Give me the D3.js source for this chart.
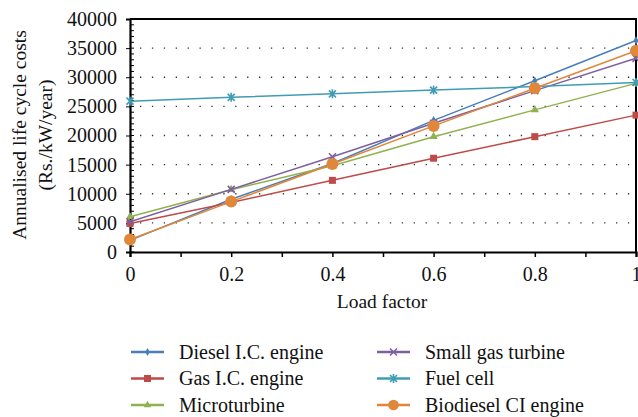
<!DOCTYPE html>
<html>
<head>
<meta charset="utf-8">
<script src="https://cdn.jsdelivr.net/npm/d3@7"></script>
<style>
  body { margin: 0; background: #fff; }
  text { font-family: "Liberation Serif", "DejaVu Serif", serif; fill: #111; }
</style>
</head>
<body>
<div id="chart"></div>
<script>
var loadFactor = [0, 0.2, 0.4, 0.6, 0.8, 1];

var diesel = [2000, 9050, 15200, 22600, 29400, 36300];
var gasIC = [4900, 8500, 12300, 16100, 19800, 23500];
var micro = [6050, 10700, 14800, 19800, 24400, 28950];
var smallGas = [5200, 10750, 16350, 22100, 27700, 33250];
var fuelCell = [25900, 26550, 27150, 27800, 28400, 29100];
var biodiesel = [2150, 8650, 15100, 21650, 28100, 34550];

var seriesNames = ["Diesel I.C. engine", "Gas I.C. engine", "Microturbine",
  "Small gas turbine", "Fuel cell", "Biodiesel CI engine"];
var seriesValues = [diesel, gasIC, micro, smallGas, fuelCell, biodiesel];
var colors = ["#4a7ebb", "#be4b48", "#8fb24f", "#7d60a0", "#3e9db5", "#e0873a"];
var markers = ["diamond", "square", "triangle", "cross", "asterisk", "circle"];

var yTicks = [0, 5000, 10000, 15000, 20000, 25000, 30000, 35000, 40000];

var width = 638, height = 417;
var svg = d3.select("#chart").append("svg")
  .attr("width", width).attr("height", height);

var x = d3.scaleLinear().domain([0, 1]).range([130, 636]);
var y = d3.scaleLinear().domain([0, 40000]).range([252, 19]);

// dotted grid
svg.append("g").selectAll("line")
  .data(yTicks.filter(function(d) { return d > 0 && d < 40000; }))
  .enter().append("line")
  .attr("x1", x(0) + 10).attr("x2", x(1) - 4)
  .attr("y1", function(d) { return y(d); })
  .attr("y2", function(d) { return y(d); })
  .attr("stroke", "#333").attr("stroke-width", 1.3)
  .attr("stroke-dasharray", "1.3,10.6");

// frame top/right
svg.append("path")
  .attr("d", "M" + x(0) + "," + y(40000) + "H" + x(1) + "V" + y(0))
  .attr("fill", "none").attr("stroke", "#000").attr("stroke-width", 2);

// y axis with minor ticks inward
var yMinor = d3.range(0, 40001, 1000);
svg.append("g").selectAll("line")
  .data(yMinor).enter().append("line")
  .attr("x1", x(0)).attr("x2", x(0) + 4)
  .attr("y1", function(d) { return y(d); }).attr("y2", function(d) { return y(d); })
  .attr("stroke", "#000").attr("stroke-width", 1);

var yAxis = d3.axisLeft(y).tickValues(yTicks).tickSize(4).tickPadding(9)
  .tickFormat(d3.format("d"));
var gy = svg.append("g").attr("transform", "translate(" + x(0) + ",0)").call(yAxis);
gy.select(".domain").attr("stroke-width", 2.2);
gy.selectAll("text").style("font-size", "20px").style("font-family", "Liberation Serif, serif");

// x axis
var xAxis = d3.axisBottom(x).tickValues(d3.range(0, 1.01, 0.1)).tickSize(5).tickPadding(10)
  .tickFormat(function(d) {
    var r = Math.round(d * 10);
    if (r % 2 !== 0) return "";
    return r === 0 ? "0" : r === 10 ? "1" : d3.format(".1f")(d);
  });
var gx = svg.append("g").attr("transform", "translate(0," + y(0) + ")").call(xAxis);
gx.select(".domain").attr("stroke-width", 2.2);
gx.selectAll(".tick line").attr("stroke-width", 1.5);
gx.selectAll("text").style("font-size", "20px").style("font-family", "Liberation Serif, serif");

// axis titles
svg.append("text").attr("x", 382).attr("y", 308)
  .attr("text-anchor", "middle").style("font-size", "19.5px").text("Load factor");
var yt = svg.append("text").attr("transform", "translate(0,135) rotate(-90)")
  .attr("text-anchor", "middle").style("font-size", "19.5px");
yt.append("tspan").attr("x", 0).attr("y", 26).text("Annualised life cycle costs");
yt.append("tspan").attr("x", 0).attr("y", 52).text("(Rs./kW/year)");

function drawMarker(g, type, color, cx, cy, scale) {
  scale = scale || 1;
  if (type === "diamond") {
    g.append("path").attr("d", d3.symbol(d3.symbolDiamond, 22 * scale)())
      .attr("transform", "translate(" + cx + "," + cy + ")").attr("fill", color);
  } else if (type === "square") {
    g.append("rect").attr("x", cx - 3.5).attr("y", cy - 3.5).attr("width", 7).attr("height", 7)
      .attr("fill", color);
  } else if (type === "triangle") {
    g.append("path").attr("d", d3.symbol(d3.symbolTriangle, 30 * scale)())
      .attr("transform", "translate(" + cx + "," + cy + ")").attr("fill", color);
  } else if (type === "cross") {
    g.append("path").attr("d", "M-3.5,-3.5L3.5,3.5M-3.5,3.5L3.5,-3.5")
      .attr("transform", "translate(" + cx + "," + cy + ")")
      .attr("stroke", color).attr("stroke-width", 1.6);
  } else if (type === "asterisk") {
    g.append("path").attr("d", "M-3.5,-3.5L3.5,3.5M-3.5,3.5L3.5,-3.5M0,-4.5L0,4.5")
      .attr("transform", "translate(" + cx + "," + cy + ")")
      .attr("stroke", color).attr("stroke-width", 1.6);
  } else if (type === "circle") {
    g.append("circle").attr("cx", cx).attr("cy", cy).attr("r", 6 * Math.sqrt(scale)).attr("fill", color);
  }
}

var line = d3.line()
  .x(function(d, i) { return x(loadFactor[i]); })
  .y(function(d) { return y(d); });

seriesValues.forEach(function(vals, si) {
  var g = svg.append("g");
  g.append("path").datum(vals).attr("d", line)
    .attr("fill", "none").attr("stroke", colors[si]).attr("stroke-width", 1.5);
  vals.forEach(function(v, i) {
    drawMarker(g, markers[si], colors[si], x(loadFactor[i]), y(v));
  });
});

// legend
var legend = svg.append("g");
seriesNames.forEach(function(name, i) {
  var col = Math.floor(i / 3), row = i % 3;
  var lx = col === 0 ? 131 : 377;
  var ly = 352 + row * 26.5;
  legend.append("line").attr("x1", lx).attr("x2", lx + 33).attr("y1", ly).attr("y2", ly)
    .attr("stroke", colors[i]).attr("stroke-width", 2.5);
  drawMarker(legend, markers[i], colors[i], lx + 16.5, ly, 0.8);
  legend.append("text").attr("x", lx + 48).attr("y", ly + 6.5)
    .style("font-size", "20px").text(name);
});
</script>
</body>
</html>
